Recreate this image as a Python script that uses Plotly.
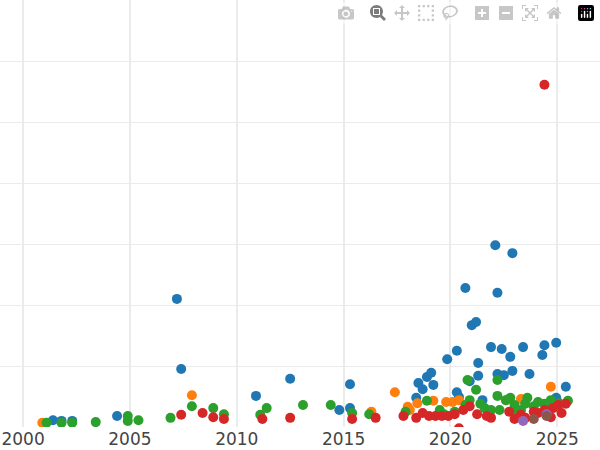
import plotly.graph_objects as go

# year / value pairs per group
blue_year = [2001.4, 2001.8, 2002.3, 2004.4, 2007.2, 2007.4, 2010.9, 2012.5, 2014.8, 2015.3, 2015.3,
             2018.5, 2018.4, 2018.7, 2018.9, 2019.1, 2019.2, 2019.85, 2020.3, 2020.3, 2020.7, 2020.9,
             2021.0, 2021.2, 2021.3, 2021.3, 2021.5, 2021.9, 2022.1, 2022.2, 2022.2, 2022.4, 2022.5,
             2022.8, 2022.9, 2022.9, 2023.4, 2023.7, 2024.3, 2024.4, 2024.95, 2024.95, 2025.4, 2024.5, 2020.4]
blue_val = [0.11, 0.10, 0.10, 0.18, 2.10, 0.95, 0.51, 0.79, 0.28, 0.70, 0.31,
            0.72, 0.48, 0.62, 0.82, 0.89, 0.69, 1.11, 0.57, 1.25, 2.28, 0.75,
            1.67, 1.72, 1.05, 0.84, 0.44, 1.31, 2.98, 0.87, 2.20, 1.28, 0.85,
            1.15, 0.92, 2.85, 1.31, 0.87, 1.18, 1.34, 1.38, 0.48, 0.66, 0.28, 0.49]

orange_year = [2000.9, 2007.9, 2016.3, 2017.4, 2018.0, 2018.45, 2019.2, 2019.8, 2020.1, 2020.4,
               2022.6, 2023.3, 2024.7, 2018.1]
orange_val = [0.07, 0.52, 0.25, 0.57, 0.33, 0.39, 0.43, 0.41, 0.41, 0.44, 0.44, 0.46, 0.66, 0.28]

green_year = [2001.1, 2001.8, 2002.3, 2003.4, 2004.9, 2004.9, 2005.4, 2006.9, 2007.9, 2008.9, 2009.4,
              2011.1, 2011.4, 2013.1, 2014.4, 2015.4, 2016.2, 2017.9, 2018.9, 2019.5, 2020.2, 2020.8,
              2020.9, 2021.2, 2021.4, 2021.9, 2022.2, 2022.2, 2022.3, 2022.6, 2022.8, 2023.0, 2023.3,
              2023.5, 2023.6, 2023.9, 2024.1, 2024.4, 2024.7, 2024.9, 2025.1, 2025.5, 2021.6, 2022.9,
              2020.7, 2019.7]
green_val = [0.07, 0.07, 0.07, 0.08, 0.18, 0.10, 0.11, 0.15, 0.34, 0.31, 0.21,
             0.20, 0.31, 0.36, 0.36, 0.23, 0.21, 0.25, 0.43, 0.28, 0.25, 0.77,
             0.44, 0.61, 0.38, 0.28, 0.77, 0.51, 0.28, 0.44, 0.48, 0.36, 0.28,
             0.38, 0.48, 0.34, 0.41, 0.38, 0.44, 0.36, 0.39, 0.43, 0.31, 0.25,
             0.36, 0.21]

red_year = [2007.4, 2008.4, 2008.9, 2009.4, 2011.2, 2012.5, 2015.4, 2016.5, 2017.8, 2018.4, 2018.7,
            2019.0, 2019.3, 2019.6, 2019.9, 2020.2, 2020.4, 2020.6, 2020.9, 2021.25, 2021.7, 2021.9,
            2022.75, 2023.0, 2023.3, 2023.9, 2024.4, 2024.4, 2024.7, 2024.8, 2025.05, 2025.2, 2025.4,
            2024.1, 2023.5]
red_val = [0.20, 0.23, 0.16, 0.13, 0.13, 0.15, 0.13, 0.15, 0.18, 0.15, 0.23,
           0.18, 0.18, 0.18, 0.18, 0.21, -0.02, 0.28, 0.34, 0.21, 0.18, 0.15,
           0.25, 0.13, 0.20, 0.25, 5.61, 0.28, 0.16, 0.31, 0.36, 0.23, 0.38,
           0.23, 0.15]

purple_year = [2023.4, 2024.5]
purple_val = [0.10, 0.21]
brown_year = [2023.9, 2024.5]
brown_val = [0.13, 0.18]

groups = [
    (blue_year, blue_val, "#1f77b4"),
    (orange_year, orange_val, "#ff7f0e"),
    (green_year, green_val, "#2ca02c"),
    (red_year, red_val, "#d62728"),
    (purple_year, purple_val, "#9467bd"),
    (brown_year, brown_val, "#8c564b"),
]

fig = go.Figure()
for xs, ys, color in groups:
    fig.add_trace(go.Scatter(x=xs, y=ys, mode="markers",
                             marker=dict(color=color, size=10), showlegend=False))

fig.update_layout(
    width=600, height=450,
    margin=dict(l=0, r=0, t=0, b=23),
    plot_bgcolor="white", paper_bgcolor="white",
    font=dict(family="DejaVu Sans", size=17, color="#444"),
)
fig.update_xaxes(range=[1998.92, 2027.0], tickvals=[2000, 2005, 2010, 2015, 2020, 2025],
                 showgrid=True, gridcolor="#ebebeb", gridwidth=2, zeroline=False,
                 ticks="", showline=False)
fig.update_yaxes(range=[0, 7], dtick=1, showticklabels=False, showgrid=True,
                 gridcolor="#ebebeb", gridwidth=1, zeroline=False)

# drop the default page margin so the plot fills the window like the reference
fig.write_html("out.html", post_script="document.body.style.margin='0';")
